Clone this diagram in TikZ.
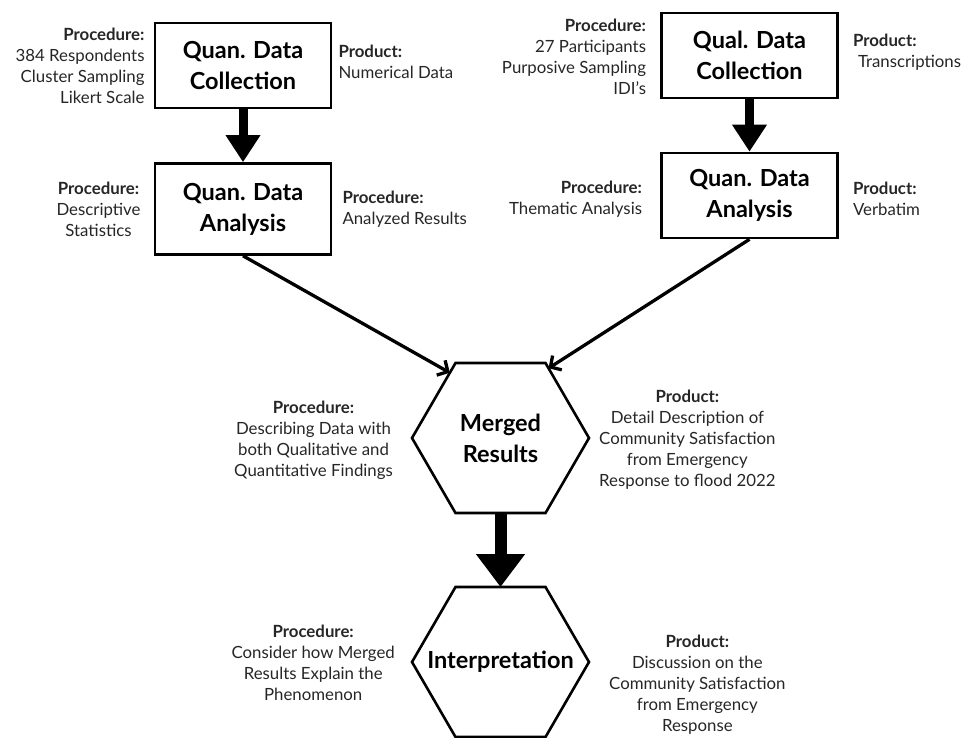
\documentclass[tikz,border=0pt]{standalone}
\usepackage{fontspec}
\setmainfont{Lato}
\usetikzlibrary{arrows.meta,positioning,calc}

\begin{document}
\begin{tikzpicture}[
  x=1pt, y=-1pt,
  stage/.style={draw, line width=2.6pt, minimum width=176pt, minimum height=85pt, inner sep=0pt, align=center, font=\fontsize{23.5}{31}\selectfont\bfseries},
  hexnode/.style={minimum width=177pt, minimum height=150pt, inner sep=0pt, outer sep=0pt, align=center, font=\fontsize{23.5}{31}\selectfont\bfseries},
  hexline/.style={line width=2.6pt, line join=miter},
  lab/.style={inner sep=0pt, text=black!85, font=\fontsize{16.8}{21}\selectfont},
  bigarrow/.style={line width=9pt, -{Triangle[width=33pt,length=27pt]}},
  hugearrow/.style={line width=12pt, -{Triangle[width=47pt,length=33pt]}},
  link/.style={line width=3.3pt, -{Straight Barb[length=8pt,width=17pt]}}
]
\useasboundingbox (0,0) rectangle (963,737);

\node[stage] (qnc) at (243,65.5) {Quan. Data\\Collection};
\node[stage, minimum height=91pt] (qna) at (243,209) {Quan. Data\\Analysis};
\node[stage] (qlc) at (749.5,55.5) {Qual. Data\\Collection};
\node[stage] (qla) at (749.5,195.5) {Quan. Data\\Analysis};

\node[hexnode] (merged) at (500.5,438) {Merged\\Results};
\node[hexnode] (interp) at (500.5,662) {Interpretation};

\foreach \h in {merged,interp} {
  \coordinate (\h-tl) at ($(\h.north)+(-45,0)$);
  \coordinate (\h-tr) at ($(\h.north)+(45,0)$);
  \coordinate (\h-bl) at ($(\h.south)+(-45,0)$);
  \coordinate (\h-br) at ($(\h.south)+(45,0)$);
  \draw[hexline] (\h-tl) -- (\h-tr) -- (\h.east) -- (\h-br) -- (\h-bl) -- (\h.west) -- cycle;
}

\node[lab, align=right, left=9pt of qnc] (qncproc) {\textbf{Procedure:}\\384 Respondents\hspace*{8pt}\\Cluster Sampling\\Likert Scale};
\node[lab, align=left, right=6pt of qnc, yshift=4pt] (qncprod) {\textbf{Product:}\\Numerical Data};
\node[lab, align=center, left=13pt of qna] (qnaproc) {\textbf{Procedure:}\\Descriptive\\Statistics};
\node[lab, align=left, right=10pt of qna] (qnaprod) {\textbf{Procedure:}\\Analyzed Results};

\node[lab, align=right, left=14pt of qlc, yshift=-1.5pt] (qlcproc) {\textbf{Procedure:}\\27 Participants\hspace*{7pt}\\Purposive Sampling\\IDI's};
\node[lab, align=left, right=14pt of qlc, yshift=3.5pt] (qlcprod) {\textbf{Product:}\\\hspace*{5pt}Transcriptions};
\node[lab, align=right, left=18pt of qla, yshift=-4pt] (qlaproc) {\textbf{Procedure:}\\Thematic Analysis};
\node[lab, align=left, right=14pt of qla, yshift=-3pt] (qlaprod) {\textbf{Product:}\\Verbatim};

\node[lab, align=center, left=19pt of merged, yshift=-2pt] (mergedproc) {\textbf{Procedure:}\\Describing Data with\\both Qualitative and\\Quantitative Findings};
\node[lab, align=center, right=10pt of merged, yshift=-2pt] (mergedprod) {\textbf{Product:}\\Detail Description of\\Community Satisfaction\\from Emergency\\Response to flood 2022};
\node[lab, align=center, left=17pt of interp, yshift=-1pt] (interpproc) {\textbf{Procedure:}\\Consider how Merged\\Results Explain the\\Phenomenon};
\node[lab, align=center, right=20pt of interp, yshift=-23pt] (interpprod) {\textbf{Product:}\\Discussion on the\\Community Satisfaction\\from Emergency\\Response};

\draw[bigarrow] (qnc.south) -- (qna.north);
\draw[bigarrow] (qlc.south) -- (qla.north);
\draw[link] (qna.south) -- ($(merged-tl)!0.13!(merged.west)$);
\draw[link] (qla.south) -- ($(merged-tr)!0.07!(merged.east)$);
\draw[hugearrow] (merged.south) -- (interp.north);
\end{tikzpicture}
\end{document}
